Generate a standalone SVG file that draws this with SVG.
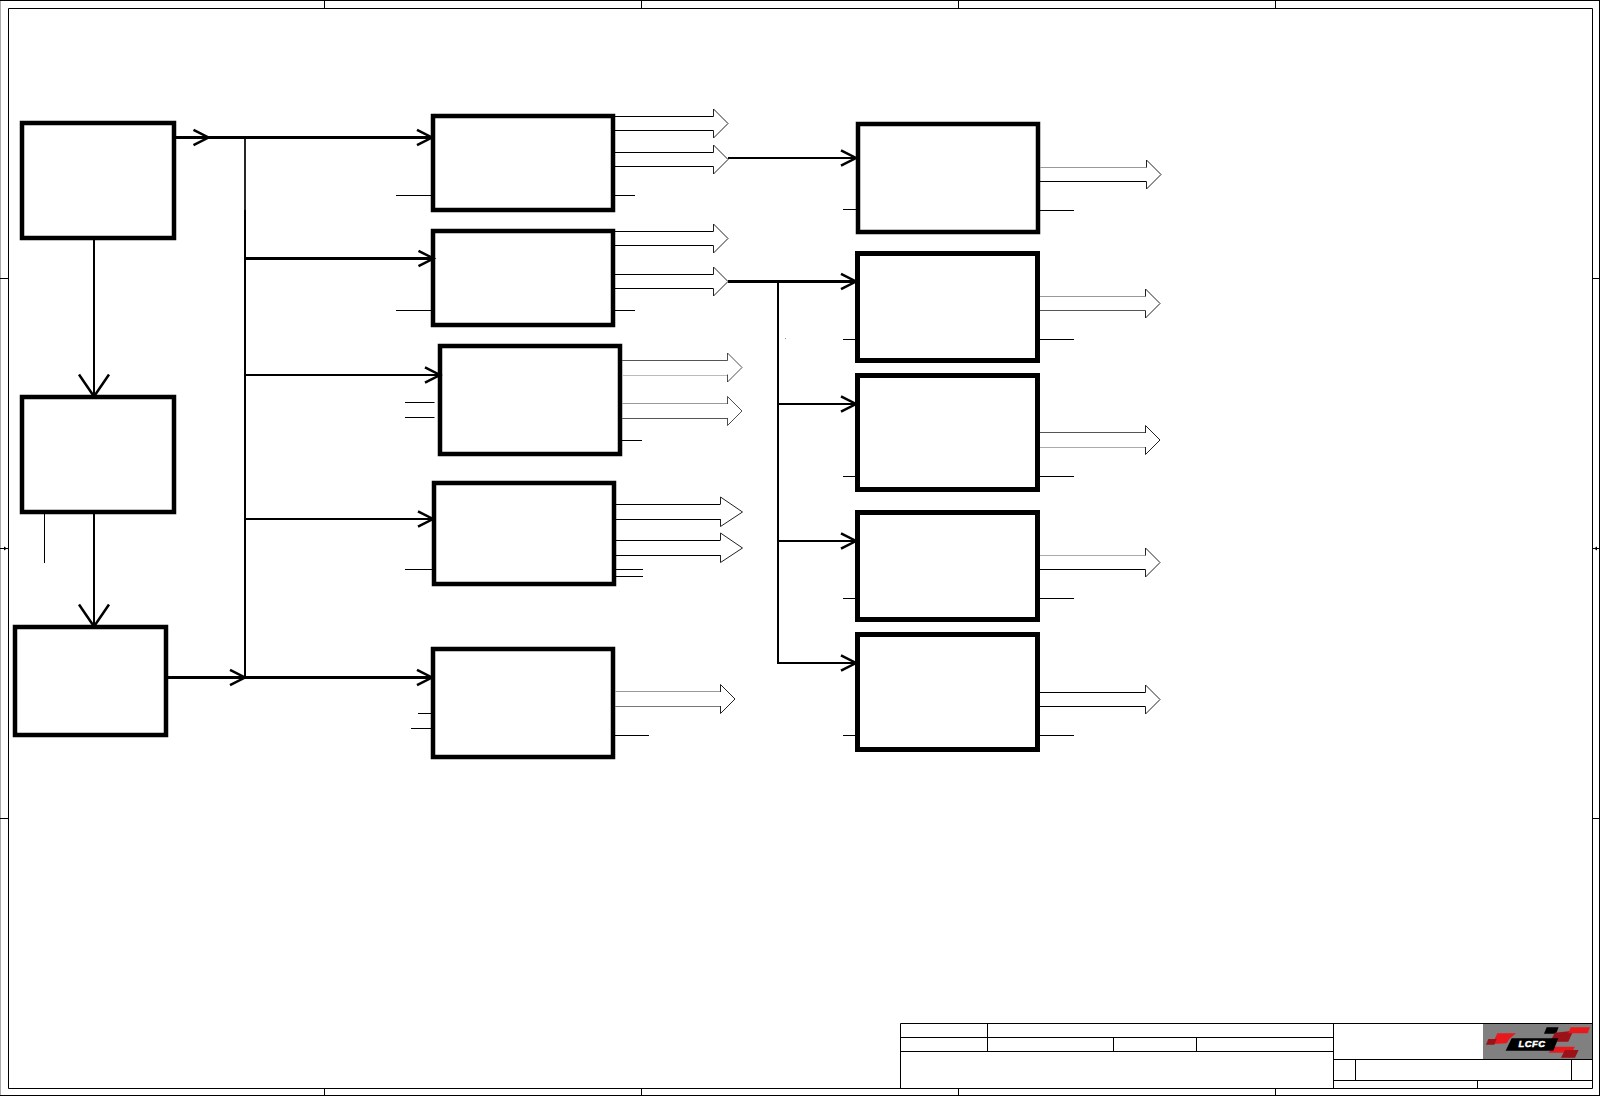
<svg xmlns="http://www.w3.org/2000/svg" xmlns:xlink="http://www.w3.org/1999/xlink" width="1600" height="1096" viewBox="0 0 1600 1096">
<style>
.bg{fill:#fff}
.box{fill:#fff;stroke:#000;stroke-width:4.5}
.box5{fill:#fff;stroke:#000;stroke-width:5}
.fr{fill:none;stroke:#000;stroke-width:1}
.t1{fill:none;stroke:#000;stroke-width:1}
.w2{fill:none;stroke:#000;stroke-width:2}
.w3{fill:none;stroke:#000;stroke-width:3}
.ah{marker-end:url(#ch)}
.big{marker-end:url(#bigch)}
.bh{fill:#fff;stroke:#222;stroke-width:1}
.tb{fill:none;stroke:#000;stroke-width:1}
</style>
<defs>
<marker id="ch" markerUnits="userSpaceOnUse" markerWidth="20" markerHeight="20" refX="16" refY="10" viewBox="0 0 20 20" orient="auto" overflow="visible">
<path d="M1,2.3 L16,10 L1,17.7" fill="none" stroke="#000" stroke-width="2.5"/>
</marker>
<marker id="bigch" markerUnits="userSpaceOnUse" markerWidth="26" markerHeight="36" refX="23" refY="18" viewBox="0 0 26 36" orient="auto" overflow="visible">
<path d="M1,3 L23,18 L1,33" fill="none" stroke="#000" stroke-width="2.5"/>
</marker>
<path id="bh" d="M0,-7 V-14.5 L14.5,0 L0,14.5 V7"/>
</defs>
<rect class="bg" width="1600" height="1096"/>

<g id="frame">
<path d="M0.5,0 V1096" stroke="#aaa" stroke-width="1" fill="none"/>
<path class="fr" d="M0,0.5 H1600 M1599.5,0 V1096 M0,1095.5 H1600"/>
<path class="fr" d="M8.5,8.5 H1592.5 V1088.5 H8.5 Z"/>
<path class="fr" d="M324.5,0 V8 M641.5,0 V8 M958.5,0 V8 M1275.5,0 V8 M324.5,1089 V1096 M641.5,1089 V1096 M958.5,1089 V1096 M1275.5,1089 V1096 M0,278.5 H8 M0,818.5 H8 M1593,278.5 H1600 M1593,818.5 H1600 M0,548.5 H8 M1593,548.5 H1600"/>
<path d="M4,546.5 L7,548.5 L4,550.5 Z M1597,546.5 L1594,548.5 L1597,550.5 Z" fill="#000"/>
</g>

<g id="node-left-1"><rect class="box" x="22" y="123" width="152" height="115"/></g>
<g id="node-left-2"><rect class="box" x="22" y="397" width="152" height="115"/></g>
<g id="node-left-3"><rect class="box" x="15" y="627" width="151" height="108"/></g>

<g id="node-mid-1"><rect class="box" x="433" y="116" width="180" height="94"/></g>
<g id="node-mid-2"><rect class="box" x="433" y="231" width="180" height="94"/></g>
<g id="node-mid-3"><rect class="box" x="440" y="346" width="180" height="108"/></g>
<g id="node-mid-4"><rect class="box" x="434" y="483" width="180" height="101"/></g>
<g id="node-mid-5"><rect class="box" x="433" y="649" width="180" height="108"/></g>

<g id="node-right-1"><rect class="box" x="858" y="124" width="180" height="108"/></g>
<g id="node-right-2"><rect class="box5" x="857.5" y="253.5" width="180" height="107"/></g>
<g id="node-right-3"><rect class="box5" x="857.5" y="375.5" width="180" height="114"/></g>
<g id="node-right-4"><rect class="box5" x="857.5" y="512.5" width="180" height="107"/></g>
<g id="node-right-5"><rect class="box5" x="857.5" y="634.5" width="180" height="115"/></g>

<g id="connectors">
<path class="w3 ah" d="M176,137.5 H208.5"/>
<path class="w3 ah" d="M208,137.5 H432"/>
<path class="w2" d="M245,137 V210" stroke-opacity=".85"/>
<path class="w2" d="M245,210 V677"/>
<path class="w3 ah" d="M245,258.5 H433.5"/>
<path class="w2 ah" d="M245,375 H440"/>
<path class="w2 ah" d="M245,519 H433"/>
<path class="w3 ah" d="M168,677.5 H245"/>
<path class="w3 ah" d="M244,677.5 H432"/>
<path class="w2 big" d="M94,240 V396.5"/>
<path class="w2 big" d="M94,514 V626.5"/>
<path class="t1" d="M44.5,514 V563"/>

<path class="w2 ah" d="M728,158 H856"/>
<path class="w3 ah" d="M728,281.5 H856"/>
<path class="w2" d="M778,281 V664"/>
<path class="w2 ah" d="M778,404 H856"/>
<path class="w2 ah" d="M778,541 H856"/>
<path class="w2 ah" d="M777,663 H856"/>
<rect x="785" y="338" width="1" height="1" fill="#999"/>

<path class="t1" d="M396,195.5 H431 M615,195.5 H635 M396,310.5 H431 M615,310.5 H635 M405,402.5 H434.5 M405,417.5 H434.5 M622,440.5 H642 M405,569.5 H432 M616,569.5 H643 M616,576.5 H643 M418,713.5 H431 M411,728.5 H431 M615,735.5 H649"/>
<path class="t1" d="M843,209.5 H856 M1040,210.5 H1074 M843,339.5 H855 M1040,339.5 H1074 M843,476.5 H855 M1040,476.5 H1074 M843,598.5 H855 M1040,598.5 H1074 M843,735.5 H855 M1040,735.5 H1074"/>

<path class="t1" d="M615,116.5 H714 M615,130.5 H714 M615,152.5 H714 M615,166.5 H714 M615,231.5 H714 M615,245.5 H714 M615,274.5 H714 M615,288.5 H714"/>
<use href="#bh" xlink:href="#bh" class="bh" x="713.5" y="123.5"/>
<use href="#bh" xlink:href="#bh" class="bh" x="713.5" y="159.5"/>
<use href="#bh" xlink:href="#bh" class="bh" x="713.5" y="238.5"/>
<use href="#bh" xlink:href="#bh" class="bh" x="713.5" y="281.5"/>

<path d="M622,360.5 H728" stroke="#555" fill="none"/>
<path d="M622,375.5 H728" stroke="#bbb" fill="none"/>
<path d="M622,403.5 H728" stroke="#999" fill="none"/>
<path d="M622,418.5 H728" stroke="#555" fill="none"/>
<use href="#bh" xlink:href="#bh" class="bh" x="727.5" y="367.5" stroke-opacity=".8"/>
<use href="#bh" xlink:href="#bh" class="bh" x="727.5" y="411" stroke-opacity=".8"/>

<path class="t1" d="M616,504.5 H721 M616,519.5 H721 M616,540.5 H721 M616,555.5 H721"/>
<path class="bh" d="M720.5,504 V497 L742.5,512 L720.5,526.5 V519"/>
<path class="bh" d="M720.5,540 V533 L742.5,548 L720.5,562.5 V555"/>

<path d="M615,691.5 H721" stroke="#999" fill="none"/>
<path d="M615,706.5 H721" stroke="#777" fill="none"/>
<use href="#bh" xlink:href="#bh" class="bh" x="720.5" y="699"/>

<path d="M1040,167.5 H1147" stroke="#999" fill="none"/>
<path d="M1040,181.5 H1147" stroke="#000" fill="none"/>
<use href="#bh" xlink:href="#bh" class="bh" x="1146.5" y="174.5"/>
<path d="M1040,296.5 H1146" stroke="#999" fill="none"/>
<path d="M1040,310.5 H1146" stroke="#555" fill="none"/>
<use href="#bh" xlink:href="#bh" class="bh" x="1145.5" y="303.5"/>
<path d="M1040,432.5 H1146" stroke="#555" fill="none"/>
<path d="M1040,447.5 H1146" stroke="#aaa" fill="none"/>
<use href="#bh" xlink:href="#bh" class="bh" x="1145.5" y="440"/>
<path d="M1040,555.5 H1146" stroke="#aaa" fill="none"/>
<path d="M1040,569.5 H1146" stroke="#000" fill="none"/>
<use href="#bh" xlink:href="#bh" class="bh" x="1145.5" y="562.5"/>
<path d="M1040,692.5 H1146" stroke="#000" fill="none"/>
<path d="M1040,706.5 H1146" stroke="#000" fill="none"/>
<use href="#bh" xlink:href="#bh" class="bh" x="1145.5" y="699.5"/>
</g>

<g id="title-block">
<path class="tb" d="M900.5,1023.5 H1592.5 M900.5,1037.5 H1333.5 M900.5,1051.5 H1333.5 M900.5,1023.5 V1088 M987.5,1023 V1051 M1113.5,1037 V1051 M1196.5,1037 V1051 M1333.5,1023 V1088"/>
<path class="tb" d="M1333,1059.5 H1592 M1333,1080.5 H1592 M1355.5,1059 V1080 M1571.5,1059 V1080 M1477.5,1080 V1088"/>
<rect x="1483" y="1024" width="109" height="35" fill="#808080"/>
<g id="logo" transform="translate(1320 1010) scale(.3333)">
<path d="M532,70 H588 L570,85 L560,100 L517,102 Z" fill="#e8191c"/>
<path d="M505,87 H530 L523,104 H498 Z" fill="#9b1218"/>
<path d="M680,52 H716 L708,71 H672 Z" fill="#000"/>
<path d="M705,68 L760,62 L745,95 H690 Z" fill="#9b1218"/>
<path d="M752,52 H810 L803,70 H745 Z" fill="#e8191c"/>
<path d="M703,110 H765 L755,128 H685 Z" fill="#e8191c"/>
<path d="M735,120 H776 L765,143 H723 Z" fill="#9b1218"/>
<path d="M575,85 H715 L700,122 H557 Z" fill="#000"/>
<text x="636" y="112" font-family="'Liberation Sans',sans-serif" font-weight="700" font-style="italic" font-size="28" letter-spacing="1.5" text-anchor="middle" fill="#fff" stroke="#fff" stroke-width="1.5">LCFC</text>
</g>
</g>
</svg>
